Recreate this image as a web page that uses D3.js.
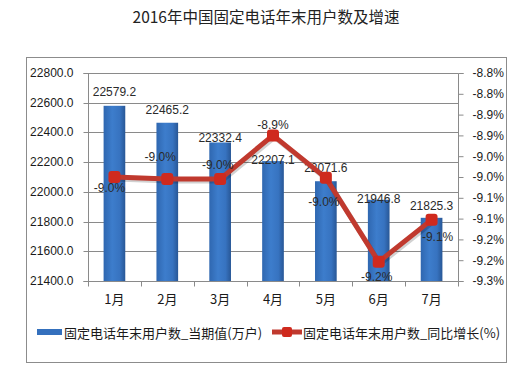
<!DOCTYPE html>
<html><head><meta charset="utf-8">
<script src="https://cdn.jsdelivr.net/npm/d3@7/dist/d3.min.js"></script>
<style>
html,body{margin:0;padding:0;background:#fff;}
svg{display:block;}
text{font-family:"Liberation Sans",Arial,sans-serif;fill:#262626;}
.cjk{font-family:"Noto Sans CJK SC","Liberation Sans",sans-serif;}
</style></head>
<body>
<script>
const title = "2016年中国固定电话年末用户数及增速";
const months = ["1月","2月","3月","4月","5月","6月","7月"];
const userValues = [22579.2, 22465.2, 22332.4, 22207.1, 22071.6, 21946.8, 21825.3];
const rateValues = [-9.05, -9.055, -9.055, -8.95, -9.052, -9.254, -9.153];
const rateLabels = ["-9.0%","-9.0%","-9.0%","-8.9%","-9.0%","-9.2%","-9.1%"];
const leftTicks = [21400, 21600, 21800, 22000, 22200, 22400, 22600, 22800];
const rightTicks = [-8.80, -8.85, -8.90, -8.95, -9.00, -9.05, -9.10, -9.15, -9.20, -9.25, -9.30];
const rightTickLabels = ["-8.8%","-8.8%","-8.9%","-8.9%","-9.0%","-9.0%","-9.1%","-9.1%","-9.2%","-9.2%","-9.3%"];
const legendNames = ["固定电话年末用户数_当期值(万户)", "固定电话年末用户数_同比增长(%)"];

// layout nudges for data labels (as placed in the reference)
const barLabelDy = [-14, -13, -4.5, -1, -13, -1, -12];
const rateLabelDx = [-5, -7, -2.5, 0, -2, -2, 6];
const rateLabelDy = [11, -22, -14, -10, 24, 15, 17];

const W = 523, H = 369;
const plot = {l: 88, r: 458, t: 73, b: 281};
const svg = d3.select("body").append("svg").attr("width", W).attr("height", H);

const defs = svg.append("defs");
const g1 = defs.append("linearGradient").attr("id","barGrad").attr("x1","0").attr("x2","1").attr("y1","0").attr("y2","0");
g1.append("stop").attr("offset","0%").attr("stop-color","#2f67b0");
g1.append("stop").attr("offset","40%").attr("stop-color","#3d7dcc");
g1.append("stop").attr("offset","75%").attr("stop-color","#3773c0");
g1.append("stop").attr("offset","100%").attr("stop-color","#285796");

// outer border
svg.append("rect").attr("x",26.5).attr("y",57.5).attr("width",480).attr("height",305)
  .attr("fill","none").attr("stroke","#8c8c8c").attr("stroke-width",1);

// title
svg.append("text").attr("class","cjk").attr("x",266).attr("y",16)
  .attr("text-anchor","middle").attr("dominant-baseline","central")
  .attr("font-size",15.5).style("fill","#222").text(title);

const x = d3.scaleBand().domain(months).range([plot.l, plot.r]).paddingInner(0.59).paddingOuter(0.295);
const yL = d3.scaleLinear().domain([21400, 22800]).range([plot.b, plot.t]);
const yR = d3.scaleLinear().domain([-9.3, -8.8]).range([plot.b, plot.t]);
const cx = m => x(m) + x.bandwidth()/2;

// gridlines
svg.append("g").selectAll("line").data(leftTicks).join("line")
  .attr("x1", plot.l).attr("x2", plot.r)
  .attr("y1", d => Math.round(yL(d))+0.5).attr("y2", d => Math.round(yL(d))+0.5)
  .attr("stroke","#8a8a8a").attr("stroke-width",1);

// left axis
const axL = svg.append("g").attr("transform",`translate(${plot.l+0.5},0)`)
  .call(d3.axisLeft(yL).tickValues(leftTicks).tickFormat(d3.format(".1f")).tickSize(5).tickPadding(10));
axL.selectAll("path,line").attr("stroke","#8a8a8a");
axL.selectAll("text").attr("font-size",12).style("fill","#1a1a1a").style("font-family","'Liberation Sans',Arial,sans-serif");
axL.selectAll(".tick").attr("transform", d => `translate(0,${Math.round(yL(d))+0.5})`);
axL.select(".domain").attr("d", `M-5,${plot.t+0.5}H0V${plot.b+0.5}H-5`);

// right axis
const axR = svg.append("g").attr("transform",`translate(${plot.r+0.5},0)`)
  .call(d3.axisRight(yR).tickValues(rightTicks).tickFormat((d,i) => rightTickLabels[i]).tickSize(5).tickPadding(9));
axR.selectAll("path,line").attr("stroke","#8a8a8a");
axR.selectAll("text").attr("font-size",12).style("fill","#1a1a1a").style("font-family","'Liberation Sans',Arial,sans-serif");
axR.select(".domain").attr("d", `M5,${plot.t+0.5}H0V${plot.b+0.5}H5`);

// bars
svg.append("g").selectAll("rect").data(userValues).join("rect")
  .attr("x", (d,i) => x(months[i])).attr("width", x.bandwidth())
  .attr("y", d => yL(d)).attr("height", d => plot.b - yL(d))
  .attr("fill","url(#barGrad)");

// x axis
const xb = svg.append("g").attr("transform",`translate(0,${plot.b+0.5})`);
xb.append("line").attr("x1",plot.l).attr("x2",plot.r).attr("stroke","#8a8a8a");
const step = x.step();
const boundaries = d3.range(months.length+1).map(i => plot.l + i*step);
xb.selectAll("line.t").data(boundaries).join("line").attr("class","t")
  .attr("x1", d => Math.round(d)+0.5).attr("x2", d => Math.round(d)+0.5).attr("y1",0).attr("y2",5)
  .attr("stroke","#8a8a8a");
xb.selectAll("text").data(months).join("text").attr("class","cjk")
  .attr("x", d => cx(d)).attr("y", 17).attr("text-anchor","middle").attr("dominant-baseline","central")
  .attr("font-size",13).style("fill","#1a1a1a").text(d => d);

// bar labels
svg.append("g").selectAll("text").data(userValues).join("text")
  .attr("x", (d,i) => cx(months[i])).attr("y", (d,i) => yL(d) + barLabelDy[i])
  .attr("text-anchor","middle").attr("dominant-baseline","central")
  .attr("font-size",12).style("fill","#2a2a2a").text(d => d3.format(".1f")(d));

// line
const line = d3.line().x((d,i) => cx(months[i])).y(d => yR(d));
svg.append("path").datum(rateValues).attr("d", line).attr("fill","none")
  .attr("stroke","#000").attr("stroke-opacity",0.18).attr("stroke-width",5)
  .attr("transform","translate(1.5,2)");
svg.append("path").datum(rateValues).attr("d", line).attr("fill","none")
  .attr("stroke","#c0392e").attr("stroke-width",5).attr("stroke-linejoin","round");
svg.append("g").selectAll("rect").data(rateValues).join("rect")
  .attr("x", (d,i) => cx(months[i]) - 6).attr("y", d => yR(d) - 6)
  .attr("width",12).attr("height",12).attr("rx",3)
  .attr("fill","#cf2a1e");

// rate labels
svg.append("g").selectAll("text").data(rateValues).join("text")
  .attr("x", (d,i) => cx(months[i]) + rateLabelDx[i]).attr("y", (d,i) => yR(d) + rateLabelDy[i])
  .attr("text-anchor","middle").attr("dominant-baseline","central")
  .attr("font-size",12).style("fill","#2a2a2a").text((d,i) => rateLabels[i]);

// legend
const lg = svg.append("g");
lg.append("rect").attr("x",37).attr("y",329).attr("width",25).attr("height",6).attr("fill","#3470bd");
lg.append("text").attr("class","cjk").attr("x",64).attr("y",332).attr("dominant-baseline","central")
  .attr("font-size",13).style("fill","#1a1a1a").text(legendNames[0]);
lg.append("line").attr("x1",272).attr("x2",302).attr("y1",332).attr("y2",332)
  .attr("stroke","#c0392e").attr("stroke-width",5);
lg.append("rect").attr("x",282).attr("y",327).attr("width",10).attr("height",10).attr("rx",2).attr("fill","#cf2a1e");
lg.append("text").attr("class","cjk").attr("x",303).attr("y",332).attr("dominant-baseline","central")
  .attr("font-size",13).style("fill","#1a1a1a").text(legendNames[1]);
</script>
</body></html>
